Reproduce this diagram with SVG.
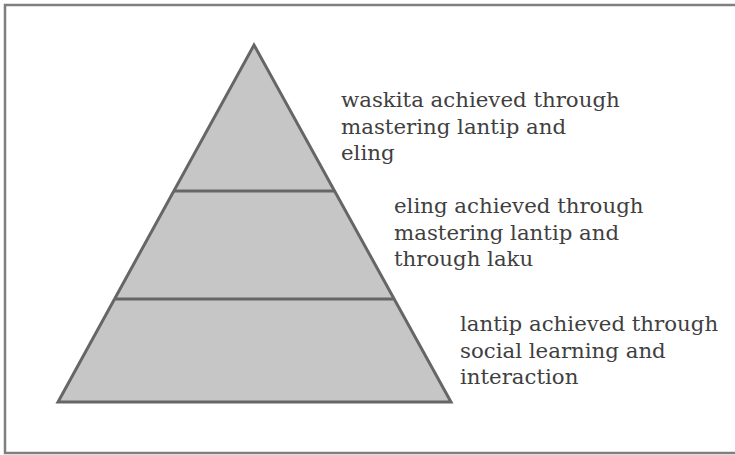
<svg xmlns="http://www.w3.org/2000/svg" width="735" height="455" viewBox="0 0 735 455">
  <style>
    .frame { fill: #ffffff; stroke: #7f7f7f; stroke-width: 2.5; }
    .tier { fill: #c6c6c6; stroke: #666666; stroke-width: 3; stroke-linejoin: miter; }
    .divider { stroke: #666666; stroke-width: 3; fill: none; }
    .label { font-family: "DejaVu Serif", "Liberation Serif", serif; font-size: 21.3px; fill: #3f3f3f; }
  </style>
  <rect class="frame" x="5" y="5" width="740" height="448"/>

  <!-- pyramid: three tiers -->
  <g id="pyramid">
    <polygon class="tier" points="254,45 451,402 58,402"/>
  </g>
  <g id="connectors">
    <line class="divider" x1="174" y1="191" x2="334" y2="191"/>
    <line class="divider" x1="115" y1="299" x2="393" y2="299"/>
  </g>

  <g id="waskita">
    <text class="label" x="341" y="107">waskita achieved through</text>
    <text class="label" x="341" y="133.5">mastering lantip and</text>
    <text class="label" x="341" y="160">eling</text>
  </g>
  <g id="eling">
    <text class="label" x="394" y="213">eling achieved through</text>
    <text class="label" x="394" y="239.5">mastering lantip and</text>
    <text class="label" x="394" y="266">through laku</text>
  </g>
  <g id="lantip">
    <text class="label" x="460" y="331">lantip achieved through</text>
    <text class="label" x="460" y="357.5">social learning and</text>
    <text class="label" x="460" y="384">interaction</text>
  </g>
</svg>
